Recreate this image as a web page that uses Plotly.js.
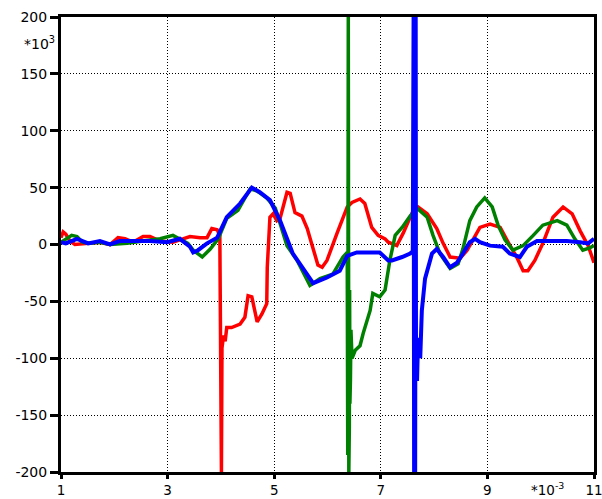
<!DOCTYPE html>
<html>
<head>
<meta charset="utf-8">
<script src="https://cdn.plot.ly/plotly-3.0.1.min.js"></script>
<style>html,body{margin:0;padding:0;background:#fff;}#chart{width:602px;height:499px;}</style>
</head>
<body>
<div id="chart"></div>
<script>
// x in units of 1e-3, y in units of 1e3
var redX = [1.0,1.04,1.09,1.17,1.26,1.5,1.73,1.92,2.07,2.2,2.35,2.54,2.67,2.86,3.1,3.23,3.42,3.61,3.74,3.83,3.93,3.98,4.0,4.01,4.02,4.05,4.08,4.11,4.2,4.36,4.45,4.51,4.58,4.68,4.77,4.86,4.87,4.92,4.98,5.05,5.11,5.24,5.30,5.39,5.52,5.62,5.67,5.82,5.90,5.99,6.18,6.37,6.46,6.61,6.70,6.83,6.95,7.08,7.14,7.30,7.42,7.59,7.70,7.87,8.05,8.17,8.30,8.49,8.62,8.86,9.05,9.24,9.39,9.56,9.67,9.76,9.89,10.04,10.23,10.42,10.59,10.74,10.89,11.0];
var redY = [6,11,9,3,0,1,2,0,6,5,2,7,7,3,2,4,7,6,6,14,13,8,-200,-200,-91,-80,-85,-73,-73,-70,-64,-45,-46,-68,-61,-52,-20,24,27,21,23,46,45,28,25,14,6,-18,-20,-14,10,33,37,40,36,15,8,5,2,-1,10,28,33,27,14,1,-11,-12,-5,15,18,15,2,-12,-23,-23,-14,1,24,33,27,12,-1,-16];

var greenX = [1.0,1.09,1.2,1.3,1.4,1.54,1.73,1.92,2.24,2.54,2.86,3.1,3.23,3.38,3.48,3.65,3.80,3.95,4.11,4.32,4.55,4.68,4.86,5.02,5.24,5.43,5.67,5.86,6.10,6.29,6.37,6.38,6.39,6.40,6.405,6.41,6.415,6.42,6.425,6.43,6.44,6.46,6.52,6.61,6.67,6.80,6.85,6.98,7.08,7.17,7.27,7.40,7.55,7.68,7.87,7.98,8.11,8.30,8.45,8.54,8.67,8.80,8.95,9.09,9.20,9.33,9.48,9.67,9.86,10.04,10.31,10.49,10.64,10.79,10.92,11.0];
var greenY = [2,5,8,7,2,1,2,0,1,3,5,8,5,1,-5,-11,-4,5,23,30,49,47,41,32,-1,-14,-36,-30,-26,-11,-7,-185,200,-200,60,-160,-40,-140,-60,-120,-75,-100,-93,-89,-78,-58,-43,-46,-40,-14,8,15,25,32,24,8,-8,-21,-17,-4,21,33,41,33,17,4,-5,-1,8,17,21,17,5,-5,-3,-1];

var blueX = [1.0,1.09,1.3,1.51,1.73,1.92,2.1,2.35,2.67,2.99,3.23,3.42,3.48,3.57,3.74,3.93,4.11,4.36,4.58,4.73,4.92,5.11,5.35,5.73,5.99,6.23,6.37,6.55,6.98,7.14,7.21,7.40,7.55,7.60,7.615,7.625,7.635,7.645,7.655,7.66,7.68,7.70,7.74,7.77,7.83,7.87,7.96,8.05,8.17,8.30,8.43,8.54,8.67,8.77,8.86,9.05,9.29,9.42,9.56,9.61,9.74,9.93,10.23,10.49,10.74,10.89,11.0];
var blueY = [2,1,5,1,3,0,3,3,3,2,5,-2,-7,-5,1,6,24,36,50,46,39,21,-8,-34,-29,-23,-10,-7,-7,-14,-14,-11,-8,-6,200,-200,200,-200,200,-80,-120,-82,-100,-58,-30,-23,-8,-4,-11,-20,-16,-8,2,5,2,-1,-2,-8,-10,-11,-2,3,3,3,2,1,5];

var xTicks = [1,3,5,7,9,11];
var yTicks = [-200,-150,-100,-50,0,50,100,150,200];

var traces = [
  {x: redX, y: redY, mode: 'lines', line: {color: '#ff0000', width: 3.5}, hoverinfo: 'skip'},
  {x: greenX, y: greenY, mode: 'lines', line: {color: '#008000', width: 3.5}, hoverinfo: 'skip'},
  {x: blueX, y: blueY, mode: 'lines', line: {color: '#0000ff', width: 4}, hoverinfo: 'skip'}
];

var fontFam = 'DejaVu Sans, Liberation Sans, Arial, sans-serif';
var layout = {
  width: 602, height: 499,
  margin: {l: 61, r: 8, t: 17, b: 27, pad: 0},
  paper_bgcolor: '#ffffff', plot_bgcolor: '#ffffff',
  showlegend: false,
  font: {family: fontFam, size: 14, color: '#000'},
  xaxis: {
    range: [1, 11], tickvals: xTicks, ticktext: xTicks.map(String),
    ticks: 'outside', ticklen: 4, tickwidth: 3, tickcolor: '#000',
    ticklabeloverflow: 'allow', ticklabelstandoff: 0,
    showline: true, linewidth: 3, linecolor: '#000', mirror: true,
    showgrid: true, gridcolor: '#000', gridwidth: 1, griddash: '1px,2px',
    zeroline: false, tickfont: {family: fontFam, size: 13.5, color: '#000'}
  },
  yaxis: {
    range: [-200, 200], tickvals: yTicks, ticktext: yTicks.map(String),
    ticks: 'outside', ticklen: 8, tickwidth: 3, tickcolor: '#000',
    ticklabeloverflow: 'allow',
    showline: true, linewidth: 3, linecolor: '#000', mirror: true,
    showgrid: true, gridcolor: '#000', gridwidth: 1, griddash: '1px,2px',
    zeroline: false, tickfont: {family: fontFam, size: 14, color: '#000'}
  },
  annotations: [
    {xref: 'paper', yref: 'paper', x: -0.008, y: 0.943, xanchor: 'right', yanchor: 'middle',
     text: '*10<sup>3</sup>', showarrow: false, font: {family: fontFam, size: 14, color: '#000'}},
    {xref: 'paper', yref: 'paper', x: 0.947, y: -0.038, xanchor: 'right', yanchor: 'middle',
     text: '*10<sup>-3</sup>', showarrow: false, font: {family: fontFam, size: 13.5, color: '#000'}}
  ]
};

Plotly.newPlot('chart', traces, layout, {displayModeBar: false, staticPlot: true});
</script>
</body>
</html>
